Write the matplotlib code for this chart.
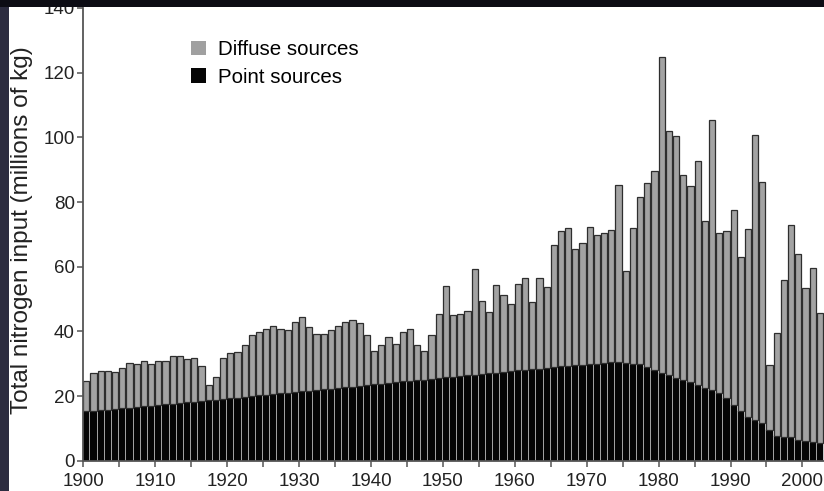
import matplotlib
matplotlib.use("Agg")
import matplotlib.pyplot as plt
from matplotlib.patches import Rectangle, Patch
import numpy as np

plt.rcParams['font.family'] = ['Liberation Sans', 'DejaVu Sans']

years = list(range(1900, 2003))

point_sources = [
    15.3, 15.4, 15.6, 15.8, 16.0, 16.2, 16.4, 16.6, 16.8, 17.0,
    17.2, 17.4, 17.6, 17.8, 18.0, 18.2, 18.4, 18.7, 18.9, 19.1,
    19.3, 19.5, 19.7, 20.0, 20.2, 20.4, 20.6, 20.8, 21.0, 21.3,
    21.5, 21.7, 21.9, 22.1, 22.3, 22.5, 22.7, 22.9, 23.1, 23.4,
    23.6, 23.8, 24.0, 24.2, 24.5, 24.7, 24.9, 25.1, 25.3, 25.5,
    25.8, 26.0, 26.2, 26.4, 26.6, 26.8, 27.0, 27.2, 27.4, 27.7,
    27.9, 28.1, 28.3, 28.5, 28.7, 29.0, 29.2, 29.4, 29.5, 29.7,
    29.8, 30.0, 30.3, 30.5, 30.5, 30.3, 30.0, 29.8, 29.1, 28.0,
    27.2, 26.4, 25.6, 24.9, 24.3, 23.4, 22.5, 21.8, 21.0, 19.4,
    17.3, 15.3, 13.5, 12.5, 11.6, 9.6, 7.5, 7.3, 7.3, 6.4,
    6.1, 5.9, 5.6,
]

total_input = [
    24.8, 27.2, 27.8, 27.8, 27.5, 28.7, 30.3, 30.0, 30.7, 29.9,
    30.8, 30.7, 32.5, 32.3, 31.5, 31.8, 29.3, 23.3, 25.8, 31.7,
    33.4, 33.5, 35.8, 38.8, 39.9, 40.7, 41.7, 40.7, 40.4, 42.8,
    44.4, 41.3, 39.3, 39.1, 40.4, 41.7, 43.0, 43.6, 42.6, 38.8,
    33.9, 35.8, 38.3, 36.2, 39.7, 40.7, 35.8, 33.9, 38.8, 45.4,
    54.1, 45.0, 45.4, 46.4, 59.3, 49.3, 46.0, 54.2, 51.3, 48.5,
    54.8, 56.5, 49.1, 56.6, 53.6, 66.7, 71.1, 71.9, 65.6, 67.2,
    72.3, 69.8, 70.3, 71.2, 85.4, 58.8, 71.9, 81.4, 85.9, 89.5,
    125.0, 102.0, 100.5, 88.5, 84.8, 92.6, 74.1, 105.5, 70.5, 71.1,
    77.5, 63.0, 71.5, 100.8, 86.1, 29.7, 39.4, 56.0, 72.9, 63.9,
    53.5, 59.7, 45.8,
]

x_tick_labels = ['1900', '1910', '1920', '1930', '1940', '1950',
                 '1960', '1970', '1980', '1990', '2000']
y_ticks = [0, 20, 40, 60, 80, 100, 120, 140]

yrs = np.array(years, dtype=float)
pts = np.array(point_sources)
diff = np.array(total_input) - pts

fig = plt.figure(figsize=(8.24, 4.91), dpi=100, facecolor='white')

# dark photo border
fig.patches.append(Rectangle((0, 0), 9 / 824, 1, transform=fig.transFigure,
                             facecolor='#2c2c40', edgecolor='none', zorder=-5))
fig.patches.append(Rectangle((0, 1 - 7 / 491), 1, 7 / 491, transform=fig.transFigure,
                             facecolor='#0c0c14', edgecolor='none', zorder=-5))

ax = fig.add_axes([83.3 / 824, 30.3 / 491, 1 - 83.3 / 824, 452.7 / 491])
ax.set_zorder(-10)

bw = 0.86
ax.bar(yrs, pts, width=bw, align='edge', color='#050505',
       edgecolor='#050505', linewidth=0.3, zorder=2)
ax.bar(yrs, diff, bottom=pts, width=bw, align='edge', color='#a3a3a3',
       edgecolor='#2e2e2e', linewidth=0.9, zorder=2)

ax.set_xlim(1900, 2003.0)
ax.set_ylim(0, 140)

ax.set_xticks(np.arange(1900, 2004, 10))
ax.set_xticklabels(x_tick_labels)
ax.set_xticks(np.arange(1905, 2004, 10), minor=True)
ax.set_yticks(y_ticks)
ax.set_yticklabels([str(v) for v in y_ticks])

for s in ['top', 'right']:
    ax.spines[s].set_visible(False)
for s in ['left', 'bottom']:
    ax.spines[s].set_color('#555555')
    ax.spines[s].set_linewidth(1.3)

ax.tick_params(axis='both', which='both', direction='out', length=4.5,
               width=1.1, color='#555555', labelsize=13.5, labelcolor='#222222')
ax.tick_params(axis='x', which='both', pad=4)
ax.tick_params(axis='y', which='both', pad=1.5)

ax.set_ylabel('Total nitrogen input (millions of kg)', fontsize=17.5,
              color='#222222')
ax.yaxis.set_label_coords((33 - 83.3) / 740.7, 0.51)

handles = [Patch(facecolor='#a0a0a0', edgecolor='none', label='Diffuse sources'),
           Patch(facecolor='#050505', edgecolor='none', label='Point sources')]
ax.legend(handles=handles, loc='upper left', bbox_to_anchor=(0.1345, 0.9475),
          frameon=False, fontsize=14.8, handlelength=0.7, handleheight=0.7,
          handletextpad=0.6, labelspacing=0.42, borderaxespad=0)

fig.savefig('out.png', dpi=100, facecolor=fig.get_facecolor())
